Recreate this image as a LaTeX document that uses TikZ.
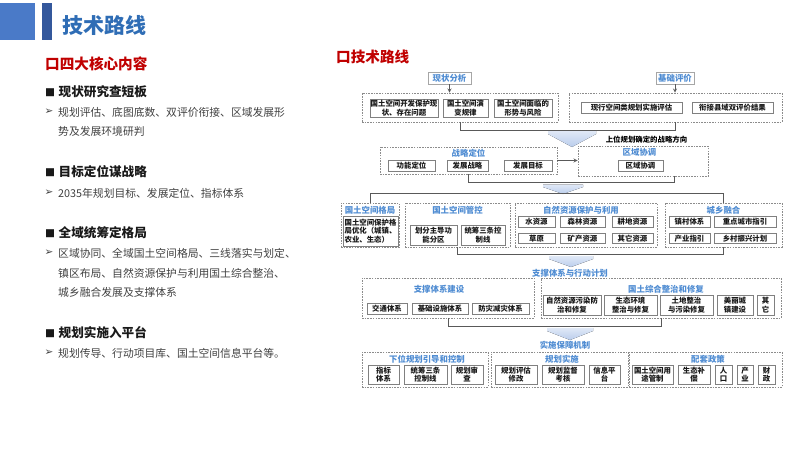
\documentclass[tikz,border=0pt]{standalone}
\usepackage{fontspec}
\setmainfont{Noto Sans CJK SC}
\newfontfamily\symfont{DejaVu Sans}
\usepackage{xcolor}
\usepackage{tikz}
\usetikzlibrary{arrows, positioning, calc}
\definecolor{jsblue}{RGB}{47,109,181}
\definecolor{jssq}{RGB}{74,122,200}
\definecolor{jsbar}{RGB}{52,88,156}
\definecolor{jsred}{RGB}{192,0,0}
\definecolor{jslbl}{RGB}{79,140,210}
\definecolor{jsline}{RGB}{89,89,89}
\definecolor{jsarr}{RGB}{186,205,236}
\newcommand{\fangkuai}{{\fontsize{10}{10}\selectfont ■}\hspace{3.5pt}}
\tikzset{
  zu/.style={rectangle, draw=black!45, dash pattern=on 1.6pt off 1.1pt, line width=0.6pt, inner sep=0pt},
  xiang/.style={rectangle, draw=black!50, line width=0.9pt, fill=white, inner sep=0pt, align=center, font=\fontsize{7.4}{8.4}\selectfont\bfseries, text=black!90},
  biaoti/.style={inner sep=0pt, font=\fontsize{8.4}{10}\selectfont\bfseries, text=jslbl},
  qidian/.style={rectangle, draw=black!35, line width=0.8pt, fill=white, inner sep=0pt, minimum height=12pt, font=\fontsize{8.4}{10}\selectfont\bfseries, text=jslbl},
  xian/.style={line width=0.9pt, color=jsline, >=stealth},
  kuanjt/.style={top color=jsarr!45, bottom color=jsarr, draw=none},
  hongti/.style={inner sep=0pt, anchor=west, font=\fontsize{14.6}{16}\selectfont\bfseries, text=jsred},
  heiti/.style={inner sep=0pt, anchor=west, font=\fontsize{12.6}{14}\selectfont\bfseries, text=black!90},
  zhengwen/.style={inner sep=0pt, anchor=west, font=\fontsize{10.8}{12}\selectfont, text=black!75},
  jian/.style={inner sep=0pt, font=\symfont\fontsize{10.5}{10.5}\selectfont, text=black!75}
}
\begin{document}
\begin{tikzpicture}[x=1pt, y=-1pt]
  \useasboundingbox (0,0) rectangle (800,450);
  % header
  \fill[jssq] (0,3) rectangle (35,40);
  \fill[jsbar] (42,3) rectangle (52,40);
  \node (title) [inner sep=0pt, anchor=west, font=\fontsize{21}{24}\selectfont\bfseries, text=jsblue] at (62,25) {技术路线};

  % left column
  \node (h0) [hongti] at (45,64) {口四大核心内容};
  \node (h1) [heiti] at (45,92) {\fangkuai 现状研究查短板};
  \node (a1) [jian] at (49,112) {➢};
  \node (t1a) [zhengwen] at (58,112) {规划评估、底图底数、双评价衔接、区域发展形};
  \node (t1b) [zhengwen] at (58,131) {势及发展环境研判};
  \node (h2) [heiti] at (45,172) {\fangkuai 目标定位谋战略};
  \node (a2) [jian] at (49,193) {➢};
  \node (t2a) [zhengwen] at (58,193) {2035年规划目标、发展定位、指标体系};
  \node (h3) [heiti] at (45,233) {\fangkuai 全域统筹定格局};
  \node (a3) [jian] at (49,253) {➢};
  \node (t3a) [zhengwen] at (58,253) {区域协同、全域国土空间格局、三线落实与划定、};
  \node (t3b) [zhengwen] at (58,273) {镇区布局、自然资源保护与利用国土综合整治、};
  \node (t3c) [zhengwen] at (58,292) {城乡融合发展及支撑体系};
  \node (h4) [heiti] at (45,333) {\fangkuai 规划实施入平台};
  \node (a4) [jian] at (49,353) {➢};
  \node (t4a) [zhengwen] at (58,353) {规划传导、行动项目库、国土空间信息平台等。};

  % right: technical route
  \node (h5) [hongti] at (336,57) {口技术路线};

  \node (xzfx) [qidian, minimum width=43pt] at (449.5,78) {现状分析};
  \node (jcpj) [qidian, minimum width=38pt] at (675,78) {基础评价};
  \node (xzbox) [zu, minimum width=196pt, minimum height=29pt] at (460,107.5) {};
  \node (pjbox) [zu, minimum width=213pt, minimum height=29pt] at (675.5,107.5) {};
  \node (x1) [xiang, minimum width=68pt, minimum height=18pt] at (404,108) {国土空间开发保护现\\状、存在问题};
  \node (x2) [xiang, minimum width=45pt, minimum height=18pt] at (465.5,108) {国土空间演\\变规律};
  \node (x3) [xiang, minimum width=58pt, minimum height=18pt] at (523,108) {国土空间面临的\\形势与风险};
  \node (p1) [xiang, minimum width=101pt, minimum height=11pt] at (631.5,107.5) {现行空间类规划实施评估};
  \node (p2) [xiang, minimum width=81pt, minimum height=11pt] at (732.5,107.5) {衔接县域双评价结果};
  \draw [xian, ->] (xzfx.south) -- (xzfx.south |- xzbox.north);
  \draw [xian, ->] (jcpj.south) -- (jcpj.south |- pjbox.north);
  \draw [xian] (xzbox.south) -- ++(0,8) -| (pjbox.south);
  \fill [kuanjt] (548,131) -- (596,131) -- (596,134) -- (572,147) -- (548,134) -- cycle;
  \node (swfx) [inner sep=0pt, font=\fontsize{7.4}{8.4}\selectfont\bfseries] at (646.5,140) {上位规划确定的战略方向};

  % row 2
  \node (zldw) [zu, minimum width=177pt, minimum height=27pt] at (468.5,160.5) {};
  \node (zldwt) [biaoti, below=1.8pt of zldw.north] {战略定位};
  \node (z1) [xiang, minimum width=47pt, minimum height=11pt] at (411.5,165.5) {功能定位};
  \node (z2) [xiang, minimum width=41pt, minimum height=11pt] at (467.5,165.5) {发展战略};
  \node (z3) [xiang, minimum width=48pt, minimum height=11pt] at (528,165.5) {发展目标};
  \node (qyxt) [zu, minimum width=130pt, minimum height=30pt] at (643,161) {};
  \node (qyxtt) [biaoti, below=2.5pt of qyxt.north, xshift=-3.5pt] {区域协调};
  \node (q1) [xiang, minimum width=45pt, minimum height=11pt] at (640.5,165.5) {区域协调};
  \draw [xian, ->] (zldw.east) -- (zldw.east -| qyxt.west);
  \draw [xian] (zldw.south) -- ++(0,8.5) -| ([xshift=31pt]qyxt.south);
  \fill [kuanjt] (543,184.5) -- (583,184.5) -- (583,187) -- (563,194) -- (543,187) -- cycle;

  % row 3
  \node (gtgj) [zu, minimum width=58pt, minimum height=44pt] at (370,225) {};
  \node (gtgjt) [biaoti, below=3pt of gtgj.north] {国土空间格局};
  \node (g1) [xiang, align=left, minimum width=55pt, minimum height=30pt] at (370.5,231) {国土空间保护格\\局优化（城镇、\\农业、生态）};
  \node (gtgk) [zu, minimum width=105pt, minimum height=44pt] at (457.5,225) {};
  \node (gtgkt) [biaoti, below=3pt of gtgk.north] {国土空间管控};
  \node (k1) [xiang, minimum width=47pt, minimum height=20pt] at (433.5,235) {划分主导功\\能分区};
  \node (k2) [xiang, minimum width=44pt, minimum height=20pt] at (483,235) {统筹三条控\\制线};
  \node (zrzy) [zu, minimum width=142pt, minimum height=44pt] at (586,225) {};
  \node (zrzyt) [biaoti, below=3.5pt of zrzy.north, xshift=-5pt] {自然资源保护与利用};
  \node (r1) [xiang, minimum width=37pt, minimum height=10.5pt] at (536.5,222) {水资源};
  \node (r2) [xiang, minimum width=45pt, minimum height=10.5pt] at (582.5,222) {森林资源};
  \node (r3) [xiang, minimum width=41pt, minimum height=10.5pt] at (632.5,222) {耕地资源};
  \node (r4) [xiang, minimum width=37pt, minimum height=10.5pt] at (536.5,238.5) {草原};
  \node (r5) [xiang, minimum width=45pt, minimum height=10.5pt] at (582.5,238.5) {矿产资源};
  \node (r6) [xiang, minimum width=41pt, minimum height=10.5pt] at (632.5,238.5) {其它资源};
  \node (cxrh) [zu, minimum width=117pt, minimum height=44pt] at (723.5,225) {};
  \node (cxrht) [biaoti, below=3.5pt of cxrh.north] {城乡融合};
  \node (c1) [xiang, minimum width=41pt, minimum height=10.5pt] at (689.5,222) {镇村体系};
  \node (c2) [xiang, minimum width=62pt, minimum height=10.5pt] at (745,222) {重点城市指引};
  \node (c3) [xiang, minimum width=41pt, minimum height=10.5pt] at (689.5,238.5) {产业指引};
  \node (c4) [xiang, minimum width=62pt, minimum height=10.5pt] at (745,238.5) {乡村振兴计划};
  \draw [xian] (gtgj.north) -- ++(0,-9) -| (cxrh.north);
  \draw [xian] (gtgk.south) -- ++(0,7) -| (cxrh.south);
  \fill [kuanjt] (549,256) -- (593,256) -- (593,259) -- (571,267) -- (549,259) -- cycle;
  \node (zcxd) [biaoti] at (570,273) {支撑体系与行动计划};

  % row 4
  \node (zctx) [zu, minimum width=172pt, minimum height=40pt] at (448,298) {};
  \node (zctxt) [biaoti, below=7pt of zctx.north, xshift=-9pt] {支撑体系建设};
  \node (s1) [xiang, minimum width=40pt, minimum height=10.5pt] at (387,309) {交通体系};
  \node (s2) [xiang, minimum width=56pt, minimum height=10.5pt] at (440,309) {基础设施体系};
  \node (s3) [xiang, minimum width=57pt, minimum height=10.5pt] at (500.5,309) {防灾减灾体系};
  \node (gtzz) [zu, minimum width=240pt, minimum height=40pt] at (661,298) {};
  \node (gtzzt) [biaoti, below=7pt of gtzz.north, xshift=5pt] {国土综合整治和修复};
  \node (u1) [xiang, minimum width=58pt, minimum height=20pt] at (572,305) {自然资源污染防\\治和修复};
  \node (u2) [xiang, minimum width=53pt, minimum height=20pt] at (630.5,305) {生态环境\\整治与修复};
  \node (u3) [xiang, minimum width=53pt, minimum height=20pt] at (686.5,305) {土地整治\\与污染修复};
  \node (u4) [xiang, minimum width=36pt, minimum height=20pt] at (735,305) {美丽城\\镇建设};
  \node (u5) [xiang, minimum width=17pt, minimum height=20pt] at (765.5,305) {其\\它};
  \draw [xian] (zctx.south) -- ++(0,8) -| (gtzz.south);
  \fill [kuanjt] (547,328) -- (593,328) -- (593,331) -- (570,340) -- (547,331) -- cycle;
  \node (ssbz) [biaoti] at (565,345) {实施保障机制};

  % row 5
  \node (xwgh) [zu, minimum width=126pt, minimum height=35pt] at (425,369.5) {};
  \node (xwght) [biaoti, below=3pt of xwgh.north, xshift=2pt] {下位规划引导和控制};
  \node (w1) [xiang, minimum width=31pt, minimum height=19pt] at (383.5,374.5) {指标\\体系};
  \node (w2) [xiang, minimum width=43pt, minimum height=19pt] at (425.5,374.5) {统筹三条\\控制线};
  \node (w3) [xiang, minimum width=32pt, minimum height=19pt] at (467,374.5) {规划审\\查};
  \node (ghss) [zu, minimum width=137pt, minimum height=35pt] at (559.5,369.5) {};
  \node (ghsst) [biaoti, below=3pt of ghss.north, xshift=2.5pt] {规划实施};
  \node (v1) [xiang, minimum width=42pt, minimum height=19pt] at (516,374.5) {规划评估\\修改};
  \node (v2) [xiang, minimum width=42pt, minimum height=19pt] at (563,374.5) {规划监督\\考核};
  \node (v3) [xiang, minimum width=31pt, minimum height=19pt] at (604.5,374.5) {信息平\\台};
  \node (ptzc) [zu, minimum width=153pt, minimum height=35pt] at (705.5,369.5) {};
  \node (ptzct) [biaoti, below=3pt of ptzc.north, xshift=2.5pt] {配套政策};
  \node (y1) [xiang, minimum width=41pt, minimum height=19pt] at (652.5,374.5) {国土空间用\\途管制};
  \node (y2) [xiang, minimum width=32pt, minimum height=19pt] at (694,374.5) {生态补\\偿};
  \node (y3) [xiang, minimum width=17pt, minimum height=19pt] at (723.5,374.5) {人\\口};
  \node (y4) [xiang, minimum width=16pt, minimum height=19pt] at (745,374.5) {产\\业};
  \node (y5) [xiang, minimum width=17pt, minimum height=19pt] at (766.5,374.5) {财\\政};
\end{tikzpicture}
\end{document}
